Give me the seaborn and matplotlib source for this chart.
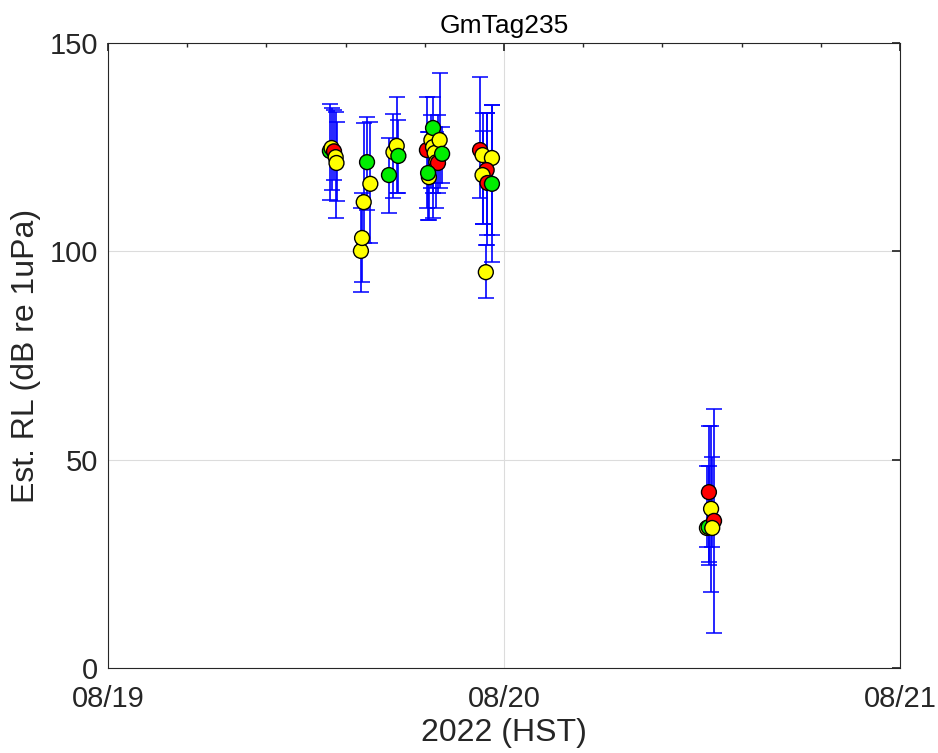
import numpy as np
import pandas as pd
import matplotlib
matplotlib.use("Agg")
import matplotlib.pyplot as plt
import matplotlib.dates as mdates
from matplotlib.ticker import MultipleLocator
import seaborn as sns

# ---- data (hours after 2022-08-19 00:00 HST) ----
hours = [13.45, 13.55, 13.70, 13.80, 13.85,
         15.33, 15.40, 15.50, 15.70, 15.90,
         17.03, 17.30, 17.50, 17.60,
         19.33, 19.45, 19.60, 19.70, 19.70, 19.80, 19.90, 20.00, 20.10, 20.25, 19.40,
         22.55, 22.70, 23.27, 22.95, 22.70, 23.00, 23.27, 22.90,
         36.30, 36.40, 36.42, 36.55, 36.73, 36.62]
rl = [124.1, 124.8, 124.0, 122.6, 121.2,
      100.1, 103.2, 111.8, 121.4, 116.2,
      118.3, 123.8, 125.3, 122.9,
      124.3, 117.8, 126.7, 125.0, 129.6, 123.6, 121.4, 121.2, 126.7, 123.4, 118.8,
      124.3, 123.1, 122.4, 119.5, 118.3, 116.4, 116.2, 95.0,
      33.6, 33.8, 42.2, 38.2, 35.3, 33.6]
rl_low = [112.3, 114.7, 117.0, 108.0, 112.0,
          90.2, 92.6, 102.0, 110.0, 102.0,
          109.2, 112.8, 114.0, 114.0,
          110.4, 107.5, 115.2, 114.0, 108.0, 116.4, 110.4, 114.0, 115.2, 116.4, 107.5,
          112.8, 106.6, 97.4, 103.9, 106.6, 101.5, 103.9, 88.8,
          29.0, 24.7, 25.4, 18.2, 8.4, 29.0]
rl_high = [135.4, 134.5, 134.0, 133.5, 131.0,
           110.4, 114.0, 130.8, 132.2, 131.0,
           127.2, 133.0, 137.0, 131.5,
           137.0, 128.6, 132.7, 129.8, 137.0, 129.8, 128.6, 132.7, 142.8, 129.8, 128.6,
           141.8, 133.2, 135.0, 133.2, 128.9, 133.2, 135.0, 101.5,
           48.5, 48.5, 58.1, 58.1, 62.2, 50.6]
level = ['g', 'y', 'r', 'y', 'y',
         'y', 'y', 'y', 'g', 'y',
         'g', 'y', 'y', 'g',
         'r', 'y', 'y', 'y', 'g', 'y', 'y', 'r', 'y', 'g', 'g',
         'r', 'y', 'y', 'r', 'y', 'r', 'g', 'y',
         'y', 'g', 'r', 'y', 'r', 'y']
palette = {'g': '#00ee00', 'y': '#ffff00', 'r': '#ff0000'}

start = pd.Timestamp('2022-08-19')
df = pd.DataFrame({
    'time': start + pd.to_timedelta(hours, unit='h'),
    'rl': rl, 'lo': rl_low, 'hi': rl_high, 'level': level,
})

sns.set_theme(style='white')
plt.rcParams['font.family'] = ['Liberation Sans', 'DejaVu Sans']

fig = plt.figure(figsize=(9.38, 7.53), dpi=100)
ax = fig.add_axes([0.1151, 0.1129, 0.8444, 0.83])

xnum = mdates.date2num(df['time'])
ax.errorbar(xnum, df['rl'],
            yerr=[df['rl'] - df['lo'], df['hi'] - df['rl']],
            fmt='none', ecolor='#0000ff', elinewidth=1.2, capsize=5.5,
            capthick=1.1, zorder=2)

sns.scatterplot(data=df, x='time', y='rl', hue='level', palette=palette,
                s=115, edgecolor='black', linewidth=1.0, legend=False,
                ax=ax, zorder=3)

ax.set_xlim(mdates.date2num(pd.Timestamp('2022-08-19')),
            mdates.date2num(pd.Timestamp('2022-08-21')))
ax.set_ylim(0, 150)
ax.xaxis.set_major_locator(mdates.DayLocator())
ax.xaxis.set_major_formatter(mdates.DateFormatter('%m/%d'))
ax.xaxis.set_minor_locator(MultipleLocator(0.2))
ax.yaxis.set_major_locator(MultipleLocator(50))

ax.grid(True, which='major', color='#dcdcdc', linewidth=0.8)
ax.set_axisbelow(True)
for sp in ax.spines.values():
    sp.set_color('#262626')
    sp.set_linewidth(0.8)
ax.tick_params(which='both', direction='in', top=True, right=True,
               color='#262626', labelcolor='#262626')
ax.tick_params(axis='y', labelsize=21, pad=7)
ax.tick_params(axis='x', labelsize=21, pad=12)
ax.tick_params(which='major', length=6)
ax.tick_params(which='minor', length=3)

ax.set_xlabel('2022 (HST)', fontsize=23, color='#262626', labelpad=4)
ax.set_ylabel('Est. RL (dB re 1uPa)', fontsize=23, color='#262626', labelpad=6)
ax.set_title('GmTag235', fontsize=19, color='black', pad=7)

fig.savefig('out.png', dpi=100)
